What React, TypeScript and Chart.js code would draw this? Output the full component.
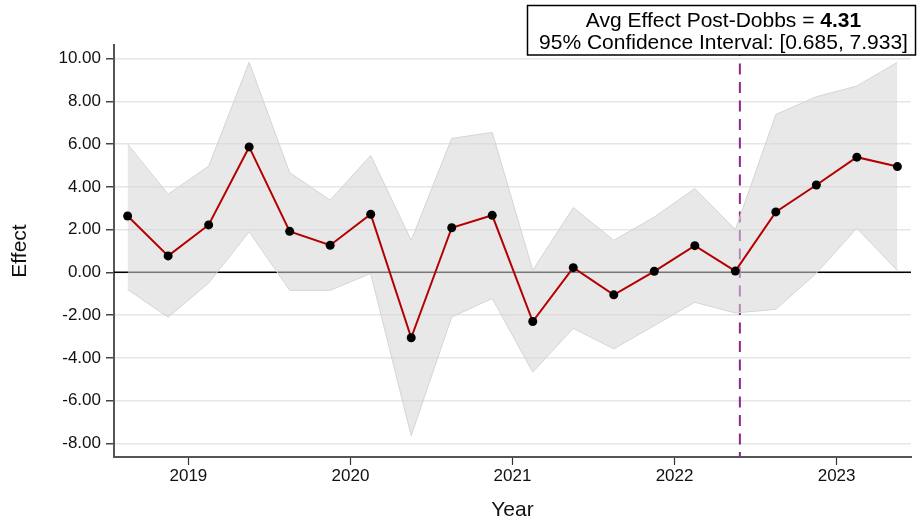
import React, { useEffect, useRef } from "react";
import { Chart, registerables } from "chart.js";

Chart.register(...registerables);

// Quarter mid-points (decimal years), 2018Q3 .. 2023Q2
const quarters = [
  2018.625, 2018.875, 2019.125, 2019.375, 2019.625, 2019.875, 2020.125, 2020.375,
  2020.625, 2020.875, 2021.125, 2021.375, 2021.625, 2021.875, 2022.125, 2022.375,
  2022.625, 2022.875, 2023.125, 2023.375,
];
const effect = [
  2.64, 0.77, 2.22, 5.87, 1.92, 1.27, 2.72, -3.06, 2.09, 2.67,
  -2.3, 0.22, -1.05, 0.05, 1.25, 0.06, 2.83, 4.09, 5.39, 4.95,
];
const upper = [
  6.0, 3.66, 4.97, 9.83, 4.67, 3.38, 5.47, 1.5, 6.27, 6.55,
  0.1, 3.03, 1.5, 2.59, 3.92, 2.0, 7.39, 8.22, 8.72, 9.83,
];
const lower = [
  -0.8, -2.1, -0.5, 1.9, -0.84, -0.84, -0.05, -7.64, -2.09, -1.22,
  -4.67, -2.62, -3.58, -2.49, -1.4, -1.9, -1.73, -0.04, 2.07, 0.08,
];
const yearTicks = [2019, 2020, 2021, 2022, 2023];
const dobbsX = 2022.403;
const avgEffectLabel = "Avg Effect Post-Dobbs = ";
const avgEffectValue = "4.31";
const ciLabel = "95% Confidence Interval: [0.685, 7.933]";

const FONT = '"Liberation Sans", Arial, Helvetica, sans-serif';

const refLines = {
  id: "refLines",
  beforeDatasetsDraw(chart: any) {
    const { ctx, chartArea, scales } = chart;
    const y0 = scales.y.getPixelForValue(0);
    ctx.save();
    ctx.strokeStyle = "#000";
    ctx.lineWidth = 1.5;
    ctx.beginPath();
    ctx.moveTo(chartArea.left, y0);
    ctx.lineTo(chartArea.right, y0);
    ctx.stroke();
    const xd = scales.x.getPixelForValue(dobbsX);
    ctx.strokeStyle = "#8E258E";
    ctx.lineWidth = 2;
    ctx.setLineDash([11, 7.5]);
    ctx.beginPath();
    ctx.moveTo(xd, chartArea.top);
    ctx.lineTo(xd, chartArea.bottom);
    ctx.stroke();
    ctx.restore();
  },
};

const noteBox = {
  id: "noteBox",
  afterDraw(chart: any) {
    const { ctx, chartArea } = chart;
    const right = chartArea.right + 4.5;
    const w = 388;
    const left = right - w;
    const top = 5.5;
    const h = 49.5;
    ctx.save();
    ctx.fillStyle = "#fff";
    ctx.fillRect(left, top, w, h);
    ctx.strokeStyle = "#000";
    ctx.lineWidth = 1.5;
    ctx.strokeRect(left, top, w, h);
    const cx = left + w / 2 + 2;
    ctx.fillStyle = "#000";
    ctx.textBaseline = "alphabetic";
    ctx.textAlign = "left";
    const normal = `21px ${FONT}`;
    const bold = `bold 21px ${FONT}`;
    ctx.font = normal;
    const w1 = ctx.measureText(avgEffectLabel).width;
    ctx.font = bold;
    const w2 = ctx.measureText(avgEffectValue).width;
    const x1 = cx - (w1 + w2) / 2;
    ctx.font = normal;
    ctx.fillText(avgEffectLabel, x1, 27);
    ctx.font = bold;
    ctx.fillText(avgEffectValue, x1 + w1, 27);
    ctx.font = normal;
    ctx.textAlign = "center";
    ctx.fillText(ciLabel, cx, 48.5);
    ctx.restore();
  },
};

export default function App() {
  const ref = useRef<HTMLCanvasElement | null>(null);
  useEffect(() => {
    if (!ref.current) return;
    const chart = new Chart(ref.current, {
      type: "line",
      data: {
        datasets: [
          {
            label: "Effect",
            data: quarters.map((x, i) => ({ x, y: effect[i] })),
            borderColor: "#B40000",
            borderWidth: 2,
            pointRadius: 4.5,
            pointBorderWidth: 0,
            pointBackgroundColor: "#000",
            pointBorderColor: "#000",
            fill: false,
            tension: 0,
          },
          {
            label: "Upper",
            data: quarters.map((x, i) => ({ x, y: upper[i] })),
            borderColor: "#d4d4d4",
            borderWidth: 1,
            pointRadius: 0,
            backgroundColor: "rgba(214,214,214,0.56)",
            fill: "+1",
            tension: 0,
          },
          {
            label: "Lower",
            data: quarters.map((x, i) => ({ x, y: lower[i] })),
            borderColor: "#d4d4d4",
            borderWidth: 1,
            pointRadius: 0,
            fill: false,
            tension: 0,
          },
        ],
      },
      options: {
        responsive: false,
        animation: false,
        devicePixelRatio: 1,
        layout: { padding: { top: 45, right: 7, left: 0, bottom: 0 } },
        plugins: {
          legend: { display: false },
          tooltip: { enabled: false },
        },
        scales: {
          x: {
            type: "linear",
            min: 2018.541,
            max: 2023.459,
            afterBuildTicks: (scale: any) => {
              scale.ticks = yearTicks.map((v) => ({ value: v }));
            },
            afterFit: (scale: any) => {
              scale.height = 66;
            },
            grid: {
              drawOnChartArea: false,
              tickColor: "#333",
              tickLength: 8,
              tickWidth: 1.2,
            },
            border: { color: "#555", width: 2 },
            ticks: {
              padding: 1,
              color: "#111",
              font: { family: FONT, size: 17 },
              maxRotation: 0,
              autoSkip: false,
              callback: (v: any) => String(v),
            },
            title: {
              display: true,
              text: "Year",
              color: "#111",
              font: { family: FONT, size: 21 },
              padding: { top: 0, bottom: 0 },
            },
          },
          y: {
            type: "linear",
            min: -8.64,
            max: 10.64,
            afterFit: (scale: any) => {
              scale.width = 114;
            },
            grid: {
              color: "#e6e6e6",
              lineWidth: 1.5,
              tickColor: "#444",
              tickLength: 8,
              tickWidth: 1.5,
            },
            border: { color: "#555", width: 2 },
            ticks: {
              stepSize: 2,
              includeBounds: false,
              padding: 5,
              color: "#111",
              font: { family: FONT, size: 17 },
              callback: (v: any) => Number(v).toFixed(2),
            },
            title: {
              display: true,
              text: "Effect",
              color: "#111",
              font: { family: FONT, size: 21 },
              padding: { top: 8, bottom: 0 },
            },
          },
        },
      },
      plugins: [refLines, noteBox],
    });
    return () => chart.destroy();
  }, []);
  return (
    <div style={{ position: "fixed", left: 0, top: 0, width: 918, height: 523, background: "#fff" }}>
      <canvas ref={ref} width={918} height={523} style={{ display: "block", width: 918, height: 523 }} />
    </div>
  );
}
